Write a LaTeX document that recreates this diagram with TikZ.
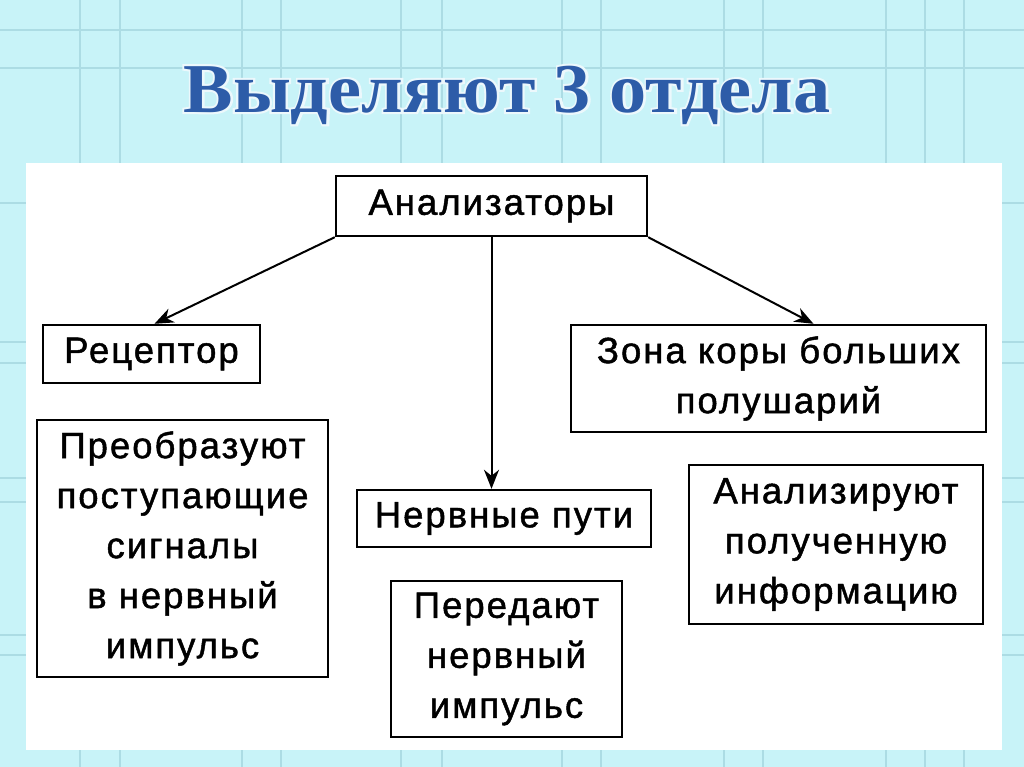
\documentclass[tikz,border=0pt]{standalone}
\usepackage{fontspec}
\setmainfont{Liberation Sans}[LetterSpace=5.5,FakeBold=1.3]
\newfontfamily\titlefont{Liberation Serif}[BoldFont={Liberation Serif Bold}]
\newfontfamily\titlehalofont{Liberation Serif Bold}[FakeBold=6]
\usetikzlibrary{arrows.meta,calc}
\definecolor{bgcyan}{RGB}{200,243,248}
\definecolor{gridc}{RGB}{172,220,228}
\definecolor{titleblue}{RGB}{45,92,168}
\definecolor{halo}{RGB}{236,248,252}
\tikzset{
  box/.style={draw=black, line width=2.4pt, fill=white, inner sep=0pt, align=center,
    font=\fontsize{36.5}{50}\selectfont},
  arr/.style={line width=2pt, -{Stealth[length=19pt,width=15pt,inset=6pt]}},
  gridline/.style={gridc, line width=1.2pt}
}
\newcommand{\titletext}{\resizebox{647pt}{\height}{\titlefont\bfseries\fontsize{70}{80}\selectfont Выделяют 3 отдела}}
\newcommand{\titlehalo}{\resizebox{647pt}{\height}{\titlehalofont\fontsize{70}{80}\selectfont Выделяют 3 отдела}}
\begin{document}
\begin{tikzpicture}[x=1pt,y=-1pt]
\useasboundingbox (0,0) rectangle (1024,767);
\fill[bgcyan] (0,0) rectangle (1024,767);
% grid
\foreach \gx in {80,120,242,281,401,442,562,601,724,763,886,925,964}
  \draw[gridline] (\gx,0) -- (\gx,767);
\foreach \gy in {30,68,203,342,363,478,502,635,655}
  \draw[gridline] (0,\gy) -- (1024,\gy);
% white panel
\fill[white] (26,163) rectangle (1002,750);
% title
\node[halo, inner sep=0pt] (titlehalo) at (507,95) {\titlehalo};
\node[titleblue, inner sep=0pt] (title) at (507,95) {\titletext};
% boxes
\node[box, minimum width=311pt, minimum height=60pt] (an) at (491.5,206) {\raisebox{-2pt}{Анализаторы}};
\node[box, minimum width=217pt, minimum height=58pt] (rec) at (151.5,354) {\raisebox{-2pt}{Рецептор}};
\node[box, minimum width=415pt, minimum height=107pt] (zona) at (778.5,378.5) {Зона коры больших\\полушарий};
\node[box, minimum width=291pt, minimum height=257pt] (preob) at (182.5,548.5) {Преобразуют\\поступающие\\сигналы\\в нервный\\импульс};
\node[box, minimum width=294pt, minimum height=57pt] (nerv) at (504,518.5) {Нервные пути};
\node[box, minimum width=231pt, minimum height=156pt] (pered) at (506.5,659) {Передают\\нервный\\импульс};
\node[box, minimum width=294pt, minimum height=159pt] (analiz) at (836,544.5) {Анализируют\\полученную\\информацию};
% arrows
\draw[arr] (an.south west) -- ([xshift=3pt]rec.north);
\draw[arr] (an.south) -- (an.south |- nerv.north);
\draw[arr] (an.south east) -- ([xshift=35pt]zona.north);
\end{tikzpicture}
\end{document}
